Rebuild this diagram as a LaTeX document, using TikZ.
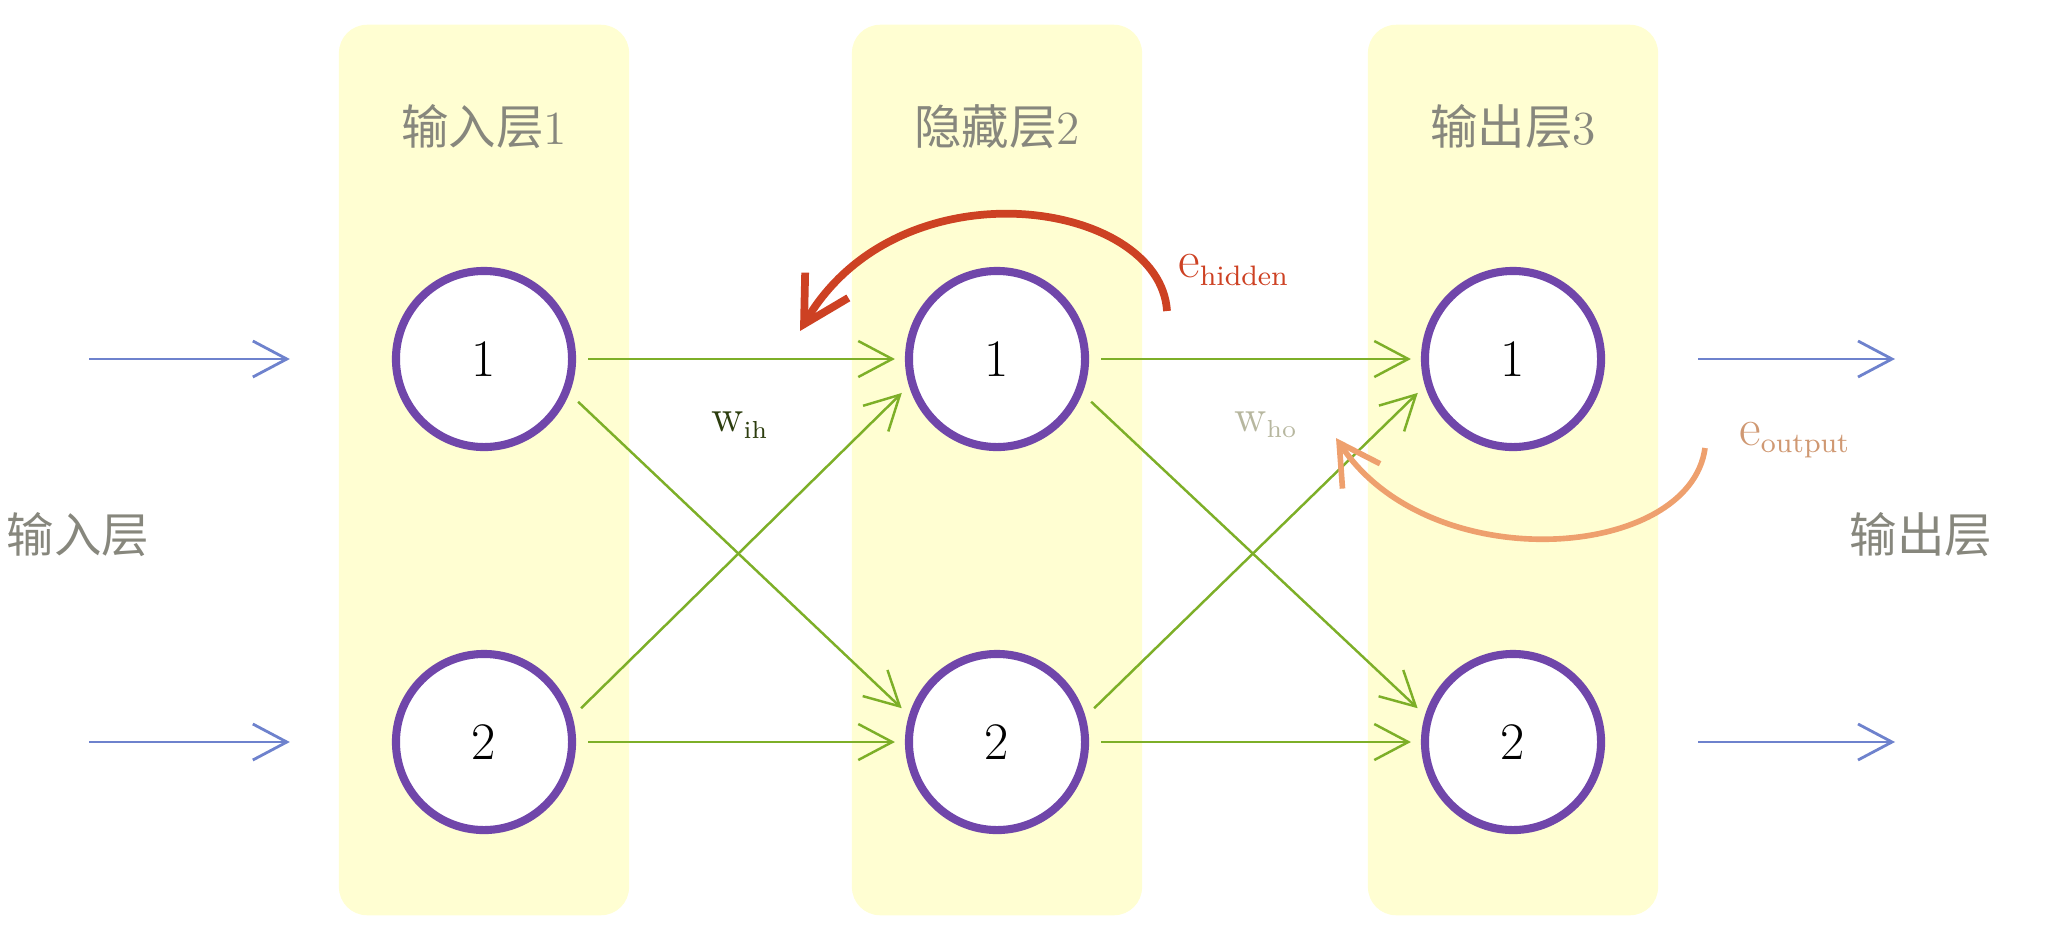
\documentclass[tikz,border=0pt]{standalone}
\usepackage{fontspec}
\newfontfamily\cjk{Noto Sans CJK SC}
\usetikzlibrary{arrows.meta, backgrounds}
\definecolor{layeryellow}{RGB}{255,254,210}
\definecolor{ringviolet}{RGB}{112,70,170}
\definecolor{linkgreen}{RGB}{125,175,40}
\definecolor{signalblue}{RGB}{110,130,205}
\definecolor{errred}{RGB}{205,65,35}
\definecolor{errorange}{RGB}{238,160,110}
\definecolor{labelgray}{RGB}{135,135,125}
\tikzset{
        >={Straight Barb[length=3.4mm, width=3.6mm]}, % open barbs as in the book
        every node/.style={inner sep=0pt},
    }
\tikzset{
      neuron/.style={
		circle,
		draw=ringviolet,
		line width=2.3pt,
		fill=white,
		minimum size=1.76cm,
		font=\fontsize{15}{18}\selectfont,
	  },
      layer box/.style={
		fill=layeryellow,
		rounded corners=8pt,
		minimum width=2.9cm,
		minimum height=8.9cm,
	  },
      link/.style={
		->, draw=linkgreen, line width=0.7pt,
		shorten <=0.12cm, shorten >=0.1cm,
	  },
      signal/.style={
		->, draw=signalblue, line width=0.8pt,
	  },
  		layer label/.style={
    	text=labelgray, font=\fontsize{13.5}{16}\selectfont,
      },
  	}

\begin{document}
\begin{tikzpicture}[x=0.01cm, y=-0.01cm]
    \useasboundingbox (0,0) rectangle (2049,942);
    % neurons
    \node [neuron] (i1) at (484,359) {1};
    \node [neuron] (i2) at (484,742) {2};
    \node [neuron] (h1) at (997,359) {1};
    \node [neuron] (h2) at (997,742) {2};
    \node [neuron] (o1) at (1513,359) {1};
    \node [neuron] (o2) at (1513,742) {2};

    \begin{scope}[on background layer]
      \coordinate (mid) at (0,470);
      \node [layer box] (box1) at (i1 |- mid) {};
      \node [layer box] (box2) at (h1 |- mid) {};
      \node [layer box] (box3) at (o1 |- mid) {};
    \end{scope}

    % layer titles
    \node [layer label] (t1) at (i1 |- 0,127) {{\cjk 输入层}1};
    \node [layer label] (t2) at (h1 |- 0,127) {{\cjk 隐藏层}2};
    \node [layer label] (t3) at (o1 |- 0,127) {{\cjk 输出层}3};
    \node [layer label] (inlabel) at (78,535) {\cjk 输入层};
    \node [layer label] (outlabel) at (1921,535) {\cjk 输出层};

    % inputs and outputs
    \coordinate (x1) at (89,359);
    \coordinate (x2) at (89,742);
    \coordinate (y1) at (1895,359);
    \coordinate (y2) at (1895,742);
    \draw [signal, shorten >=1.02cm] (x1) -- (i1);
    \draw [signal, shorten >=1.02cm] (x2) -- (i2);
    \draw [signal, shorten <=0.93cm] (o1) -- (y1);
    \draw [signal, shorten <=0.93cm] (o2) -- (y2);

    % weights
    \draw [link] (i1) -- (h1);
    \draw [link] (i2) -- (h2);
    \draw [link] (i1.-22) -- (h2.163);
    \draw [link] (i2.16) -- (h1.-163);
    \draw [link] (h1) -- (o1);
    \draw [link] (h2) -- (o2);
    \draw [link] (h1.-22) -- (o2.163);
    \draw [link] (h2.16) -- (o1.-163);
    \node [text=black!65!linkgreen, font=\fontsize{13}{15}\selectfont] (wih) at (740,425) {w\textsubscript{\fontsize{7}{8}\selectfont ih}};
    \node [text=labelgray!60!layeryellow, font=\fontsize{13}{15}\selectfont] (who) at (1266,425) {w\textsubscript{\fontsize{7}{8}\selectfont ho}};

    % errors fed back
    \coordinate (eh) at (1167,311);
    \coordinate (eh end) at (800,331);
    \draw [->, draw=errred, line width=2.2pt, >={Straight Barb[length=4.5mm, width=5mm]}]
      (eh) .. controls (1160,200) and (900,160) .. (eh end);
    \node [text=errred, font=\fontsize{15}{17}\selectfont] (ehl) at (1234,270) {e\textsubscript{\fontsize{8}{9}\selectfont hidden}};
    \coordinate (eo) at (1705,448);
    \coordinate (eo end) at (1336,438);
    \draw [->, draw=errorange, line width=1.6pt, >={Straight Barb[length=4mm, width=4.5mm]}]
      (eo) .. controls (1690,560) and (1430,580) .. (eo end);
    \node [text=errorange!70!labelgray, font=\fontsize{15}{17}\selectfont] (eol) at (1795,440) {e\textsubscript{\fontsize{8}{9}\selectfont output}};
  \end{tikzpicture}
\end{document}
